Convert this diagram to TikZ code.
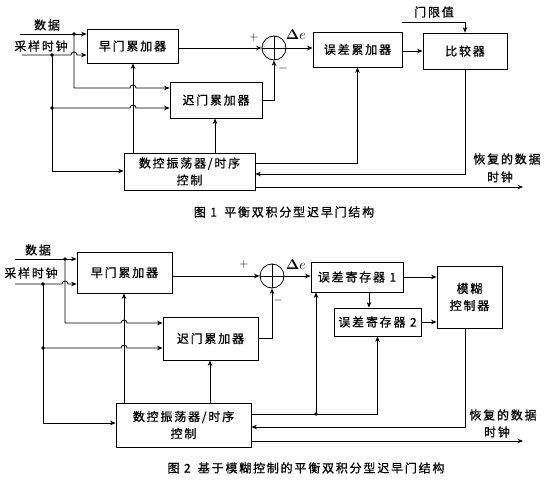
\documentclass[tikz,border=0pt]{standalone}
\usepackage{fontspec}
\usepackage{amsmath}
\newfontfamily\cjk[LetterSpace=15,FakeBold=0.8]{Noto Sans CJK SC}
\usetikzlibrary{arrows.meta}
\tikzset{
  box/.style={draw, line width=0.8pt, inner sep=0pt, align=center, font=\cjk\fontsize{12}{17}\selectfont},
  lab/.style={inner sep=0pt, align=center, font=\cjk\fontsize{12}{17}\selectfont},
  sumc/.style={draw, circle, line width=0.8pt, minimum size=24pt, inner sep=0pt},
  sign/.style={inner sep=0pt, font=\fontsize{12}{14}\selectfont},
  delta/.style={inner sep=0pt, font=\fontsize{15}{17}\selectfont},
  conn/.style={line width=0.8pt},
  arr/.style={conn, -{Stealth[length=5.5pt,width=4.5pt]}},
  dot/.style={circle, fill, inner sep=0pt, minimum size=3.8pt},
}
\begin{document}
\begin{tikzpicture}[x=1pt,y=-1pt]
\useasboundingbox (0,0) rectangle (549,487);

% ================= Figure 1 =================
\node[box, minimum width=91pt, minimum height=34pt] (zao1) at (132.5,46) {早门累加器};
\node[box, minimum width=92pt, minimum height=36pt] (chi1) at (216,100) {迟门累加器};
\node[sumc] (sum1) at (274,48) {};
\draw[conn] (sum1.north) -- (sum1.south) (sum1.west) -- (sum1.east);
\node[box, minimum width=89pt, minimum height=35pt] (wc1) at (357.5,49.5) {误差累加器};
\node[box, minimum width=84pt, minimum height=36pt] (bj1) at (465,51) {比较器};
\node[box, minimum width=131pt, minimum height=37pt] (nco1) at (189.5,171.5) {数控振荡器/时序\\控制};

\node[lab] (dl1) at (47,25) {数据};
\node[lab] (cl1) at (41,46) {采样时钟};
\node[lab] (th1) at (434,12) {门限值};
\node[lab] (ra1) at (507,159) {恢复的数据};
\node[lab] (rb1) at (500,177) {时钟};
\node[sign] (plus1) at (254,38) {$+$};
\node[sign] (minus1) at (283,69) {$-$};
\node[delta] (de1) at (296,35) {$\boldsymbol{\Delta} e$};
\node[lab] (cap1) at (284,212) {图 1\hspace{0.6em}平衡双积分型迟早门结构};

\coordinate (din1) at (20,34);
\coordinate (dd1) at (74,34);
\coordinate (db1) at (74,88);
\coordinate (cin1) at (22,55);
\coordinate (cd1) at (52,55);
\coordinate (cd1b) at (52,108);
\coordinate (cd1c) at (52,171);
\coordinate (xa1) at (133,0);
\coordinate (xb1) at (215,0);
\coordinate (thr1) at (402,22);
\coordinate (fb1) at (465,174);
\coordinate (e1) at (357,163);
\coordinate (o1) at (523,187);

\draw[arr] (din1) -- (din1 -| zao1.west);
\draw[arr] (cin1) -- (71,55) arc[start angle=180,end angle=0,radius=3pt] -- (cin1 -| zao1.west);
\draw[arr] (dd1) -- (db1) -- (130,88) arc[start angle=180,end angle=0,radius=3pt] -- (db1 -| chi1.west);
\draw[arr] (cd1) -- (cd1c) -- (cd1c -| nco1.west);
\draw[arr] (cd1b) -- (130,108) arc[start angle=180,end angle=0,radius=3pt] -- (cd1b -| chi1.west);
\draw[arr] (xa1 |- nco1.north) -- (xa1 |- zao1.south);
\draw[arr] (xb1 |- nco1.north) -- (xb1 |- chi1.south);
\draw[arr] (zao1.east |- sum1.west) -- (sum1.west);
\draw[arr] (chi1.east) -| (sum1.south);
\draw[arr] (sum1.east) -- (sum1.east -| wc1.west);
\draw[arr] (wc1.east |- bj1.west) -- (bj1.west);
\draw[arr] (thr1) -| (bj1.north);
\draw[arr] (bj1.south) -- (fb1) -- (fb1 -| nco1.east);
\draw[arr] (e1 -| nco1.east) -| (wc1.south);
\draw[arr] (o1 -| nco1.east) -- (o1);

\node[dot] (p1) at (dd1) {};
\node[dot] (p2) at (cd1) {};
\node[dot] (p3) at (cd1b) {};

% ================= Figure 2 =================
\node[box, minimum width=95pt, minimum height=41pt] (zao2) at (124.5,272.5) {早门累加器};
\node[box, minimum width=95pt, minimum height=43pt] (chi2) at (210.5,338.5) {迟门累加器};
\node[sumc] (sum2) at (272,276) {};
\draw[conn] (sum2.north) -- (sum2.south) (sum2.west) -- (sum2.east);
\node[box, minimum width=92pt, minimum height=30pt] (r1) at (357,277) {误差寄存器 1};
\node[box, minimum width=87pt, minimum height=28pt] (r2) at (377.5,322) {误差寄存器 2};
\node[box, minimum width=65pt, minimum height=62pt] (fz) at (469.5,297) {模糊\\控制器};
\node[box, minimum width=135pt, minimum height=44pt] (nco2) at (183.5,425) {数控振荡器/时序\\控制};

\node[lab] (dl2) at (38,250) {数据};
\node[lab] (cl2) at (31,273) {采样时钟};
\node[lab] (ra2) at (503,415) {恢复的数据};
\node[lab] (rb2) at (497,432) {时钟};
\node[sign] (plus2) at (244,264) {$+$};
\node[sign] (minus2) at (278,300) {$-$};
\node[delta] (de2) at (296,265) {$\boldsymbol{\Delta} e$};
\node[lab] (cap2) at (306,468) {图 2\hspace{0.6em}基于模糊控制的平衡双积分型迟早门结构};

\coordinate (din2) at (15,259);
\coordinate (dd2) at (65,259);
\coordinate (db2) at (65,323);
\coordinate (cin2) at (15,284);
\coordinate (cd2) at (43,284);
\coordinate (cd2b) at (43,348);
\coordinate (cd2c) at (43,423);
\coordinate (xa2) at (124,0);
\coordinate (xb2) at (210,0);
\coordinate (xr1) at (316,0);
\coordinate (xr12) at (369,0);
\coordinate (e2) at (377,414);
\coordinate (e2d) at (316,414);
\coordinate (fb2) at (465,427);
\coordinate (o2) at (523,441);

\draw[arr] (din2) -- (din2 -| zao2.west);
\draw[arr] (cin2) -- (62,284) arc[start angle=180,end angle=0,radius=3pt] -- (cin2 -| zao2.west);
\draw[arr] (dd2) -- (db2) -- (121,323) arc[start angle=180,end angle=0,radius=3pt] -- (db2 -| chi2.west);
\draw[arr] (cd2) -- (cd2c) -- (cd2c -| nco2.west);
\draw[arr] (cd2b) -- (121,348) arc[start angle=180,end angle=0,radius=3pt] -- (cd2b -| chi2.west);
\draw[arr] (xa2 |- nco2.north) -- (xa2 |- zao2.south);
\draw[arr] (xb2 |- nco2.north) -- (xb2 |- chi2.south);
\draw[arr] (zao2.east |- sum2.west) -- (sum2.west);
\draw[arr] (chi2.east) -| (sum2.south);
\draw[arr] (sum2.east) -- (sum2.east -| r1.west);
\draw[arr] (r1.east) -- (r1.east -| fz.west);
\draw[arr] (xr12 |- r1.south) -- (xr12 |- r2.north);
\draw[arr] (r2.east) -- (r2.east -| fz.west);
\draw[arr] (e2 -| nco2.east) -| (r2.south);
\draw[arr] (e2d) -- (xr1 |- r1.south);
\draw[arr] (fb2 |- fz.south) -- (fb2) -- (fb2 -| nco2.east);
\draw[arr] (o2 -| nco2.east) -- (o2);

\node[dot] (q1) at (dd2) {};
\node[dot] (q2) at (cd2) {};
\node[dot] (q3) at (cd2b) {};
\node[dot] (q4) at (e2d) {};
\end{tikzpicture}
\end{document}
